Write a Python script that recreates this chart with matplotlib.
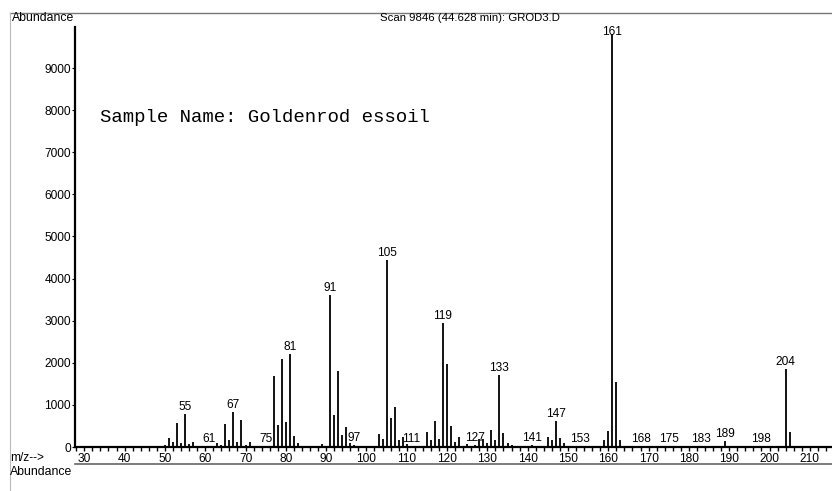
import matplotlib.pyplot as plt
from matplotlib.lines import Line2D
from matplotlib.ticker import MultipleLocator

# spectrum (m/z vs abundance)
mz = [50, 51, 52, 53, 54, 55, 56, 57, 61, 63, 64, 65, 66, 67, 68, 69, 70, 71, 73, 75,
      77, 78, 79, 80, 81, 82, 83, 85, 89, 91, 92, 93, 94, 95, 96, 97,
      103, 104, 105, 106, 107, 108, 109, 110, 111, 115, 116, 117, 118, 119, 120,
      121, 122, 123, 125, 127, 128, 129, 130, 131, 132, 133, 134, 135, 136, 141,
      145, 146, 147, 148, 149, 153, 159, 160, 161, 162, 163, 168, 175, 183, 189,
      198, 204, 205, 206]
abundance = [50, 215, 130, 570, 90, 790, 70, 130, 30, 90, 50, 540, 160, 820, 130, 640, 50, 110, 20, 30,
             1690, 520, 2100, 600, 2220, 260, 100, 30, 70, 3610, 760, 1805, 285, 470, 95, 50,
             310, 190, 4440, 680, 940, 165, 245, 60, 30, 355, 165, 625, 180, 2950, 1970,
             500, 110, 245, 80, 40, 180, 200, 100, 400, 165, 1700, 340, 100, 40, 40,
             230, 165, 625, 215, 100, 30, 165, 390, 9820, 1550, 165, 20, 30, 20, 140,
             20, 1850, 350, 30]
labelled = [55, 61, 67, 75, 81, 91, 97, 105, 111, 119, 127, 133, 141, 147, 153,
            161, 168, 175, 183, 189, 198, 204]
y_ticks = [0, 1000, 2000, 3000, 4000, 5000, 6000, 7000, 8000, 9000]

title = 'Scan 9846 (44.628 min): GROD3.D'
sample = 'Sample Name: Goldenrod essoil'

plt.rcParams['font.family'] = ['Liberation Sans', 'DejaVu Sans']

fig = plt.figure(figsize=(8.32, 4.91), dpi=100)
ax = fig.add_axes([75 / 832, 1 - 447 / 491, 1 - 75 / 832, (447 - 27) / 491])

ax.vlines(mz, 0, abundance, color='black', lw=1.3)

ymax = 9975
ax.set_xlim(27.7, 215.5)
ax.set_ylim(0, ymax)

# peak labels sit just above each labelled line (161 is held under the top)
peaks = dict(zip(mz, abundance))
for m in labelled:
    v = peaks[m]
    ax.text(m, min(v + 95, 9785), str(m), ha='center', va='baseline', fontsize=8.6)

ax.xaxis.set_major_locator(MultipleLocator(10))
ax.xaxis.set_minor_locator(MultipleLocator(2))
ax.set_yticks(y_ticks)
ax.tick_params(axis='x', which='both', direction='out', length=3, width=1,
               labelsize=8.6, pad=1)
ax.tick_params(axis='y', direction='out', length=2, width=0.8, labelsize=8.6, pad=1)

for s in ['top', 'right']:
    ax.spines[s].set_visible(False)
ax.spines['left'].set_linewidth(1.6)
ax.spines['bottom'].set_linewidth(1.6)

# page frame lines
fig.add_artist(Line2D([10 / 832, 1], [1 - 13 / 491] * 2, color='#777777', lw=1))
fig.add_artist(Line2D([10 / 832] * 2, [0, 1 - 13 / 491], color='#bbbbbb', lw=0.8))
fig.add_artist(Line2D([75 / 832, 1], [1 - 464 / 491] * 2, color='#666666', lw=1.2))

fig.text(12 / 832, 1 - 18 / 491, 'Abundance', ha='left', va='center', fontsize=8.8)
fig.text(470 / 832, 1 - 18 / 491, title, ha='center', va='center', fontsize=8.2)
fig.text(100 / 832, 1 - 117 / 491, sample, ha='left', va='center', fontsize=13.7,
         family=['Liberation Mono', 'DejaVu Sans Mono'])
fig.text(10 / 832, 1 - 458 / 491, 'm/z-->', ha='left', va='center', fontsize=8.6)
fig.text(10 / 832, 1 - 472 / 491, 'Abundance', ha='left', va='center', fontsize=8.8)

fig.savefig('out.png', dpi=100)
